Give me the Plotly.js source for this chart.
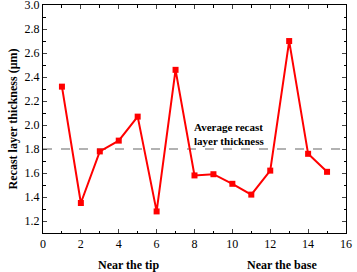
<!DOCTYPE html>
<html><head><meta charset="utf-8">
<script src="https://cdn.plot.ly/plotly-3.0.1.min.js"></script>
<style>html,body{margin:0;padding:0;background:#fff}</style>
</head><body><div id="chart" style="width:357px;height:272px"></div>
<script>
const positions = [1,2,3,4,5,6,7,8,9,10,11,12,13,14,15];
const thickness = [2.32,1.35,1.78,1.87,2.07,1.28,2.46,1.58,1.59,1.51,1.42,1.62,2.70,1.76,1.61];
const averageThickness = 1.8;
const xTicks = [0,2,4,6,8,10,12,14,16];
const yTicks = [1.2,1.4,1.6,1.8,2.0,2.2,2.4,2.6,2.8,3.0];
const regionLabels = ["Near the tip","Near the base"];
const regionPositions = [4.5,12.6];

const font = {family:"'Liberation Serif', 'Times New Roman', serif", color:"#000", size:12};
const data = [
  {x:[0,16], y:[averageThickness,averageThickness], mode:"lines", line:{color:"#666", width:1.2, dash:"dash"}, hoverinfo:"skip"},
  {x:positions, y:thickness, mode:"lines+markers", line:{color:"#ff0000", width:2}, marker:{symbol:"square", size:6, color:"#ff0000"}}
];
const layout = {
  width:357, height:272, showlegend:false,
  margin:{l:43, r:11, t:5, b:39},
  paper_bgcolor:"#fff", plot_bgcolor:"#fff", font:font,
  xaxis:{range:[0,16.001], tickvals:xTicks, ticktext:xTicks.map(String), ticks:"inside", ticklen:4, tickwidth:1, mirror:"ticks", showline:true, linecolor:"#000", linewidth:1, showgrid:false, zeroline:false, ticklabeloverflow:"allow",
    minor:{dtick:1, ticks:"inside", ticklen:2.5, tickcolor:"#000", showgrid:false}, tickfont:{size:12}},
  yaxis:{range:[1.1,3.0005], tickvals:yTicks, ticktext:yTicks.map(v=>v.toFixed(1)), ticks:"inside", ticklen:4, tickwidth:1, mirror:"ticks", showline:true, linecolor:"#000", linewidth:1, showgrid:false, zeroline:false, ticklabeloverflow:"allow",
    minor:{dtick:0.1, tick0:1.1, ticks:"inside", ticklen:2.5, tickcolor:"#000", showgrid:false}, tickfont:{size:12},
    title:{text:"<b>Recast layer thickness (μm)</b>", font:{size:12}, standoff:4}},
  annotations:[
    {x:7.85, y:2.05, xref:"x", yref:"y", text:"<b>Average recast<br>layer thickness</b>", showarrow:false, xanchor:"left", yanchor:"top", align:"left", font:{size:11}},
    {x:regionPositions[0], y:-0.14, xref:"x", yref:"paper", text:"<b>"+regionLabels[0]+"</b>", showarrow:false, yanchor:"middle", font:{size:12}},
    {x:regionPositions[1], y:-0.14, xref:"x", yref:"paper", text:"<b>"+regionLabels[1]+"</b>", showarrow:false, yanchor:"middle", font:{size:12}}
  ]
};
Plotly.newPlot("chart", data, layout, {displayModeBar:false, staticPlot:true});
</script></body></html>
